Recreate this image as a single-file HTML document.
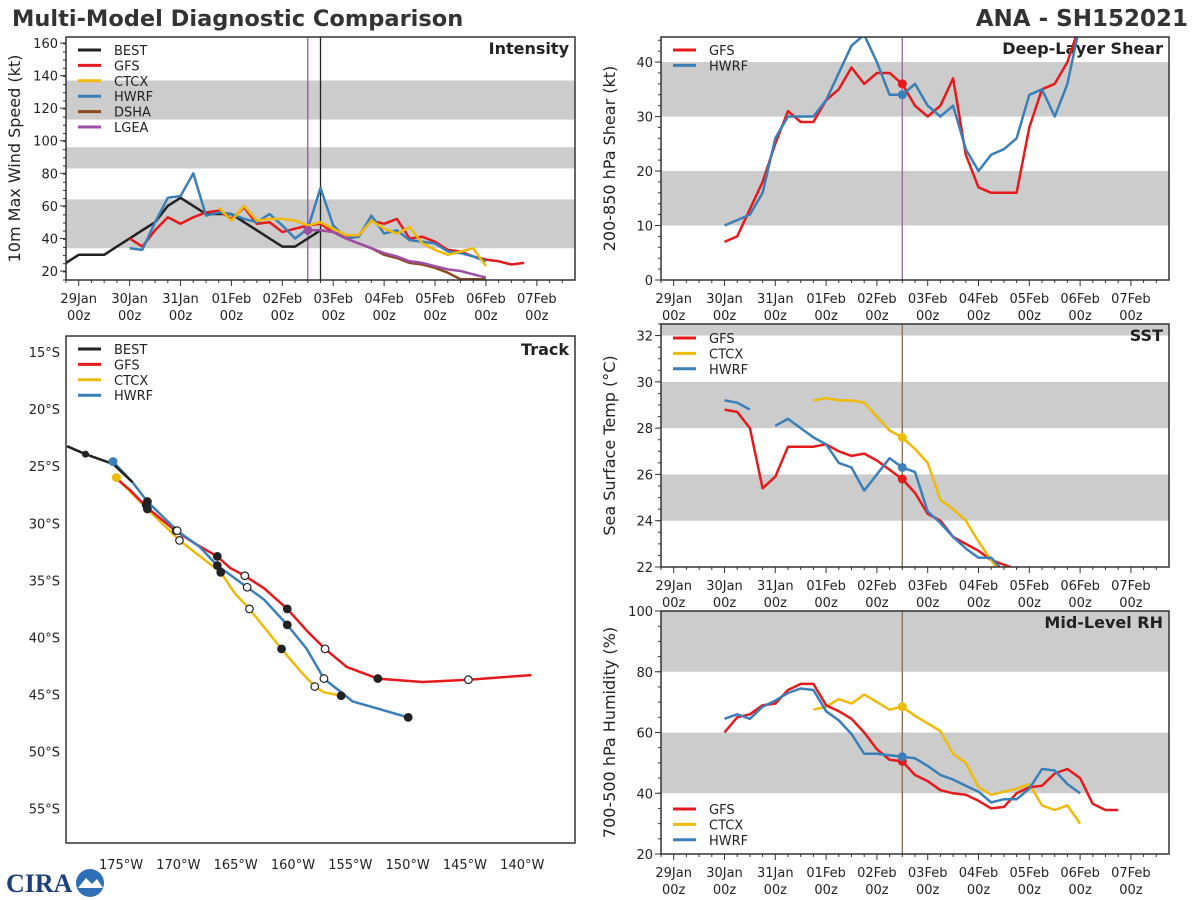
<!DOCTYPE html>
<html><head><meta charset="utf-8">
<style>
html,body{margin:0;padding:0;background:#fff;}
svg{display:block;font-family:"DejaVu Sans","Liberation Sans",sans-serif;}
</style></head>
<body>
<svg id="fig" width="1200" height="900" viewBox="0 0 1200 900" xmlns="http://www.w3.org/2000/svg">
<rect width="1200" height="900" fill="#fff"/>
<text x="12" y="26" font-size="22.5" font-weight="bold" fill="#333">Multi-Model Diagnostic Comparison</text>
<text x="1188" y="26" font-size="23" font-weight="bold" fill="#333" text-anchor="end">ANA - SH152021</text>
<g>
<text x="6" y="892" font-size="26" font-weight="bold" fill="#1d3f7a" font-family="Liberation Serif,serif">CIRA</text>
<circle cx="90" cy="883" r="14" fill="#2f6fb8"/>
<path d="M78 888 L86 878 L92 884 L97 879 L103 888 Z" fill="#fff"/>
</g>
</svg>
<script>
// ---------- data ----------
const dayLabels = ["29Jan","30Jan","31Jan","01Feb","02Feb","03Feb","04Feb","05Feb","06Feb","07Feb"];
// time in days since 29Jan 00z, 6-hourly
const bestT = [-0.25,0,0.25,0.5,0.75,1,1.25,1.5,1.75,2,2.25,2.5,2.75,3,3.25,3.5,3.75,4,4.25,4.5,4.75];
const bestVmax = [25,30,30,30,35,40,45,50,60,65,60,55,55,55,50,45,40,35,35,40,45];
const gfsT = [1,1.25,1.5,1.75,2,2.25,2.5,2.75,3,3.25,3.5,3.75,4,4.25,4.5,4.75,5,5.25,5.5,5.75,6,6.25,6.5,6.75,7,7.25,7.5,7.75,8,8.25,8.5,8.75];
const gfsVmax = [40,35,45,53,49,53,56,57,52,59,49,50,44,46,48,49,44,41,42,51,49,52,40,41,38,33,32,29,27,26,24,25];
const hwrfT = [1,1.25,1.5,1.75,2,2.25,2.5,2.75,3,3.25,3.5,3.75,4,4.25,4.5,4.75,5,5.25,5.5,5.75,6,6.25,6.5,6.75,7,7.25,7.5,7.75,8];
const hwrfVmax = [34,33,50,65,66,80,54,56,55,52,50,55,48,40,46,71,48,40,41,54,43,45,39,38,37,32,31,29,26];
const ctcxT = [2.75,3,3.25,3.5,3.75,4,4.25,4.5,4.75,5,5.25,5.5,5.75,6,6.25,6.5,6.75,7,7.25,7.5,7.75,8];
const ctcxVmax = [59,51,60,51,52,52,51,48,50,46,42,42,51,46,43,47,37,33,30,32,34,23];
const dshaT = [4.5,4.75,5,5.25,5.5,5.75,6,6.25,6.5,6.75,7,7.25,7.5,7.75,8];
const dshaVmax = [45,45,44,40,37,34,30,28,25,24,22,19,15,15,15];
const lgeaVmax = [45,45,44,40,37,34,31,29,26,25,23,21,20,18,16];

const shearT = [1,1.25,1.5,1.75,2,2.25,2.5,2.75,3,3.25,3.5,3.75,4,4.25,4.5,4.75,5,5.25,5.5,5.75,6,6.25,6.5,6.75,7,7.25,7.5,7.75,8];
const gfsShear = [7,8,13,18,25,31,29,29,33,35,39,36,38,38,36,32,30,32,37,23,17,16,16,16,28,35,36,40,47];
const hwrfShear = [10,11,12,16,26,30,30,30,33,38,43,45,40,34,34,36,32,30,32,24,20,23,24,26,34,35,30,36,47];

const sstT = [1,1.25,1.5,1.75,2,2.25,2.5,2.75,3,3.25,3.5,3.75,4,4.25,4.5,4.75,5,5.25,5.5,5.75,6,6.25,6.5,6.75];
const gfsSst = [28.8,28.7,28.0,25.4,25.9,27.2,27.2,27.2,27.3,27.0,26.8,26.9,26.6,26.2,25.8,25.2,24.3,24.0,23.3,23.0,22.7,22.3,22.1,21.9];
const hwrfSst = [29.2,29.1,28.8,null,28.1,28.4,28.0,27.6,27.3,26.5,26.3,25.3,26.0,26.7,26.3,26.1,24.4,23.9,23.3,22.8,22.4,22.4,21.8,null];
const ctcxSstT = [2.75,3,3.25,3.5,3.75,4,4.25,4.5,4.75,5,5.25,5.5,5.75,6,6.25,6.5];
const ctcxSst = [29.2,29.3,29.2,29.2,29.1,28.5,27.9,27.6,27.1,26.5,24.9,24.5,24.0,23.1,22.3,21.5];

const rhT = [1,1.25,1.5,1.75,2,2.25,2.5,2.75,3,3.25,3.5,3.75,4,4.25,4.5,4.75,5,5.25,5.5,5.75,6,6.25,6.5,6.75,7,7.25,7.5,7.75,8,8.25,8.5,8.75];
const gfsRh = [60,65,66,69,69.5,74,76,76,69,67,64.5,60,54.5,51,50.5,46,44,41,40,39.5,37.5,35,35.5,40,42,42.5,46.5,48,45,36.5,34.5,34.5];
const hwrfRh = [64.5,66,64.5,68.5,70.5,73,74.5,74,67,64,59.5,53,53,52.5,52,51.5,49,46,44.5,42.5,40.5,37,38,38,41.5,48,47.5,43,40];
const ctcxRhT = [2.75,3,3.25,3.5,3.75,4,4.25,4.5,4.75,5,5.25,5.5,5.75,6,6.25,6.5,6.75,7,7.25,7.5,7.75,8];
const ctcxRh = [67.5,68.5,71,69.5,72.5,70,67.5,68.5,65.5,63,60.5,53,50,42,39.5,40.5,41.5,43,36,34.5,36,30];

// track: lon (deg E, negative = W), lat (negative = S)
const bestLon = [-179.7,-178.1,-175.7,-174.0];
const bestLat = [-23.25,-23.95,-24.8,-26.4];
const gfsLon = [-175.5,-174.2,-172.7,-170.2,-168.5,-166.6,-165.5,-164.2,-162.5,-160.5,-158.8,-157.2,-155.3,-152.6,-148.7,-144.7,-139.2];
const gfsLat = [-26.0,-27.1,-28.65,-30.7,-31.8,-32.9,-33.9,-34.6,-35.7,-37.5,-39.4,-41.0,-42.6,-43.6,-43.9,-43.7,-43.3];
const hwrfLon = [-175.7,-174.0,-172.7,-170.1,-168.1,-166.6,-164.0,-162.5,-160.5,-158.8,-157.3,-154.8,-149.95];
const hwrfLat = [-24.6,-26.4,-28.1,-30.65,-32.1,-33.7,-35.6,-36.7,-38.9,-41.0,-43.6,-45.6,-47.0];
const ctcxLon = [-175.4,-172.7,-169.9,-168.1,-166.3,-165.1,-163.8,-161.0,-159.4,-158.1,-157.3,-155.8];
const ctcxLat = [-26.0,-28.75,-31.5,-32.9,-34.3,-36.1,-37.5,-41.0,-42.9,-44.3,-44.8,-45.1];
// daily markers (1 = filled, 0 = open)
const mkLon = [-172.8,-170.2,-166.6,-164.2,-160.5,-157.2,-152.6,-144.7, -172.7,-170.1,-166.6,-164.0,-160.5,-157.3,-149.95, -172.7,-169.9,-166.3,-163.8,-161.0,-158.1,-155.8];
const mkLat = [-28.4,-30.65,-32.9,-34.6,-37.5,-41.0,-43.6,-43.7, -28.1,-30.65,-33.7,-35.6,-38.9,-43.6,-47.0, -28.75,-31.5,-34.3,-37.5,-41.0,-44.3,-45.1];
const mkFill = [1,0,1,0,1,0,1,0, 1,0,1,0,1,0,1, 1,0,1,0,1,0,1];
const latTicks = [-15,-20,-25,-30,-35,-40,-45,-50,-55];
const lonTicks = [-175,-170,-165,-160,-155,-150,-145,-140];

// ---------- drawing ----------
const NS = "http://www.w3.org/2000/svg";
const svg = document.getElementById("fig");
const C = {best:"#222222",gfs:"#e41a1c",ctcx:"#eebb0b",hwrf:"#3a7fb8",dsha:"#8b4a1f",lgea:"#9c4fa6"};
function mk(tag, attrs, parent){ const e=document.createElementNS(NS,tag); for(const k in attrs) e.setAttribute(k,attrs[k]); (parent||svg).appendChild(e); return e; }

function panel(name, x0, x1, y0, y1, vmin, vmax, bands, yticks, yminor, ylabel, title){
  const g = mk("g",{});
  
  
  const tmin=-0.25, tmax=9.75;
  const sx = t => x0 + (t-tmin)/(tmax-tmin)*(x1-x0);
  const sy = v => y1 - (v-vmin)/(vmax-vmin)*(y1-y0);
  const clipId = name+"-clip";
  const cp = mk("clipPath",{id:clipId},g); mk("rect",{x:x0,y:y0,width:x1-x0,height:y1-y0},cp);
  bands.forEach(b=>{
    const lo=Math.max(b[0],vmin), hi=Math.min(b[1],vmax);
    const r=mk("rect",{x:x0,y:sy(hi),width:x1-x0,height:sy(lo)-sy(hi),fill:"#cccccc"},g);
    
    
  });
  for(let d=0; d<10; d++){
    mk("line",{x1:sx(d),x2:sx(d),y1:y1,y2:y1+6,stroke:"#333","stroke-width":1},g);
    const t1=mk("text",{x:sx(d),y:y1+23,"font-size":13,"text-anchor":"middle",fill:"#222"},g); t1.textContent=dayLabels[d];
    
    
    const t2=mk("text",{x:sx(d),y:y1+40,"font-size":13,"text-anchor":"middle",fill:"#222"},g); t2.textContent="00z";
  }
  for(let q=0; q<=39; q++){ const t=tmin+q*0.25; if(Math.abs(t-Math.round(t))<1e-6) continue; mk("line",{x1:sx(t),x2:sx(t),y1:y1,y2:y1+3,stroke:"#333","stroke-width":1},g); }
  yticks.forEach(v=>{
    mk("line",{x1:x0-6,x2:x0,y1:sy(v),y2:sy(v),stroke:"#333","stroke-width":1},g);
    const t=mk("text",{x:x0-8,y:sy(v)+5,"font-size":13,"text-anchor":"end",fill:"#222"},g); t.textContent=v;
    
    
  });
  for(let v=vmin; v<=vmax; v+=yminor){ mk("line",{x1:x0-3,x2:x0,y1:sy(v),y2:sy(v),stroke:"#333","stroke-width":1},g); }
  const yl=mk("text",{x:0,y:0,"font-size":16,"text-anchor":"middle",fill:"#222",transform:`translate(${x0-46},${(y0+y1)/2}) rotate(-90)`},g);
  yl.textContent=ylabel;
  
  
  const tt=mk("text",{x:x1-6,y:y0+17,"font-size":16,"font-weight":"bold","text-anchor":"end",fill:"#222"},g);
  tt.textContent=title;
  
  
  const plot=mk("g",{"clip-path":`url(#${clipId})`},g);
  return {g,plot,sx,sy,x0,x1,y0,y1};
}
function frame(p){ mk("rect",{x:p.x0,y:p.y0,width:p.x1-p.x0,height:p.y1-p.y0,fill:"none",stroke:"#333","stroke-width":1.5},p.g); }
function series(p, ts, vs, color, nm){
  let d="", pen=false;
  ts.forEach((t,i)=>{ const v=vs[i]; if(v==null){pen=false;return;} d+=(pen?"L":"M")+p.sx(t).toFixed(1)+" "+p.sy(v).toFixed(1)+" "; pen=true; });
  const path=mk("path",{d:d,fill:"none",stroke:color,"stroke-width":2.5,"stroke-linejoin":"round"},p.plot);
  
  
}
function dot(p, ts, vs, t, color){
  const i=ts.indexOf(t); if(i<0||vs[i]==null) return;
  const c=mk("circle",{cx:p.sx(t),cy:p.sy(vs[i]),r:4.5,fill:color},p.plot);
  
  
}
function vline(p, t, color){ mk("line",{x1:p.sx(t),x2:p.sx(t),y1:p.y0,y2:p.y1,stroke:color,"stroke-width":1.3},p.plot); }
function legend(parent, x, y, dy, items){
  const lg=mk("g",{},parent);
  
  
  items.forEach((it,i)=>{
    const e=mk("g",{},lg);
    
    
    mk("line",{x1:x,x2:x+23,y1:y+i*dy,y2:y+i*dy,stroke:it[1],"stroke-width":3},e);
    const t=mk("text",{x:x+36,y:y+i*dy+5,"font-size":13,fill:"#222"},e); t.textContent=it[0];
  });
}

// Intensity
const pi = panel("intensity",66,575,37,280,14.5,163.7,[[34,64],[83,96],[113,137]],[20,40,60,80,100,120,140,160],5,"10m Max Wind Speed (kt)","Intensity");
vline(pi,4.5,C.lgea); vline(pi,4.75,"#222");
series(pi,bestT,bestVmax,C.best,"best-line");
series(pi,gfsT,gfsVmax,C.gfs,"gfs-line");
series(pi,hwrfT,hwrfVmax,C.hwrf,"hwrf-line");
series(pi,ctcxT,ctcxVmax,C.ctcx,"ctcx-line");
series(pi,dshaT,dshaVmax,C.dsha,"dsha-line");
series(pi,dshaT,lgeaVmax,C.lgea,"lgea-line");
dot(pi,dshaT,lgeaVmax,4.5,C.lgea);
frame(pi);
legend(pi.g,78,50,15.4,[["BEST",C.best],["GFS",C.gfs],["CTCX",C.ctcx],["HWRF",C.hwrf],["DSHA",C.dsha],["LGEA",C.lgea]]);

// Shear
const ps = panel("shear",661,1169,37,280,0,44.6,[[10,20],[30,40]],[0,10,20,30,40],2,"200-850 hPa Shear (kt)","Deep-Layer Shear");
vline(ps,4.5,"#8e6c9a");
series(ps,shearT,gfsShear,C.gfs,"gfs-shear-line");
series(ps,shearT,hwrfShear,C.hwrf,"hwrf-shear-line");
dot(ps,shearT,gfsShear,4.5,C.gfs); dot(ps,shearT,hwrfShear,4.5,C.hwrf);
frame(ps);
legend(ps.g,673,50,15.4,[["GFS",C.gfs],["HWRF",C.hwrf]]);

// SST
const pt = panel("sst",661,1169,324,567,22,32.5,[[24,26],[28,30],[32,33]],[22,24,26,28,30,32],0.5,"Sea Surface Temp (°C)","SST");
vline(pt,4.5,"#8b6a4f");
series(pt,sstT,gfsSst,C.gfs,"gfs-sst-line");
series(pt,ctcxSstT,ctcxSst,C.ctcx,"ctcx-sst-line");
series(pt,sstT,hwrfSst,C.hwrf,"hwrf-sst-line");
dot(pt,ctcxSstT,ctcxSst,4.5,C.ctcx); dot(pt,sstT,hwrfSst,4.5,C.hwrf); dot(pt,sstT,gfsSst,4.5,C.gfs);
frame(pt);
legend(pt.g,673,338,15.4,[["GFS",C.gfs],["CTCX",C.ctcx],["HWRF",C.hwrf]]);

// RH
const pr = panel("rh",661,1169,611,854,20,100,[[40,60],[80,100]],[20,40,60,80,100],5,"700-500 hPa Humidity (%)","Mid-Level RH");
vline(pr,4.5,"#8b6a4f");
series(pr,ctcxRhT,ctcxRh,C.ctcx,"ctcx-rh-line");
series(pr,rhT,gfsRh,C.gfs,"gfs-rh-line");
series(pr,rhT.slice(0,hwrfRh.length),hwrfRh,C.hwrf,"hwrf-rh-line");
dot(pr,ctcxRhT,ctcxRh,4.5,C.ctcx); dot(pr,rhT,gfsRh,4.5,C.gfs); dot(pr,rhT,hwrfRh,4.5,C.hwrf);
frame(pr);
legend(pr.g,673,809,15.4,[["GFS",C.gfs],["CTCX",C.ctcx],["HWRF",C.hwrf]]);

// Track
(function(){
  const x0=66,x1=575,y0=336,y1=843;
  const lonMin=-179.8, lonMax=-135.4, latTop=-13.6, latBot=-58.0;
  const sx = lo => x0+(lo-lonMin)/(lonMax-lonMin)*(x1-x0);
  const sy = la => y0+(latTop-la)/(latTop-latBot)*(y1-y0);
  const g=mk("g",{});
  
  
  const cp=mk("clipPath",{id:"trk-clip"},g); mk("rect",{x:x0,y:y0,width:x1-x0,height:y1-y0},cp);
  latTicks.forEach(la=>{ const t=mk("text",{x:60,y:sy(la)+5,"font-size":13,"text-anchor":"end",fill:"#222"},g); t.textContent=(-la)+"°S";
    
     });
  lonTicks.forEach(lo=>{ const t=mk("text",{x:sx(lo),y:869,"font-size":13,"text-anchor":"middle",fill:"#222"},g); t.textContent=(-lo)+"°W";
    
     });
  const pl=mk("g",{"clip-path":"url(#trk-clip)"},g);
  function tr(lons,lats,col,nm){
    const d=lons.map((lo,i)=>(i?"L":"M")+sx(lo).toFixed(1)+" "+sy(lats[i]).toFixed(1)).join(" ");
    const p=mk("path",{d:d,fill:"none",stroke:col,"stroke-width":2.5,"stroke-linejoin":"round"},pl);
    
    
  }
  tr(ctcxLon,ctcxLat,C.ctcx,"ctcx-track");
  tr(gfsLon,gfsLat,C.gfs,"gfs-track");
  tr(hwrfLon,hwrfLat,C.hwrf,"hwrf-track");
  tr(bestLon,bestLat,C.best,"best-track");
  mk("circle",{cx:sx(bestLon[1]),cy:sy(bestLat[1]),r:3.5,fill:"#222"},pl);
  mk("circle",{cx:sx(hwrfLon[0]),cy:sy(hwrfLat[0]),r:4.5,fill:C.hwrf},pl);
  mk("circle",{cx:sx(ctcxLon[0]),cy:sy(ctcxLat[0]),r:4.5,fill:C.ctcx},pl);
  mkLon.forEach((lo,i)=>{
    const c=mk("circle",{cx:sx(lo),cy:sy(mkLat[i]),r:3.8,fill:mkFill[i]?"#222":"#fff",stroke:"#222","stroke-width":1.2},pl);
    
    
  });
  mk("rect",{x:x0,y:y0,width:x1-x0,height:y1-y0,fill:"none",stroke:"#333","stroke-width":1.5},g);
  const tt=mk("text",{x:x1-6,y:y0+19,"font-size":16,"font-weight":"bold","text-anchor":"end",fill:"#222"},g); tt.textContent="Track";
  
  
  legend(g,78,349,15.4,[["BEST",C.best],["GFS",C.gfs],["CTCX",C.ctcx],["HWRF",C.hwrf]]);
})();
</script>
</body></html>
